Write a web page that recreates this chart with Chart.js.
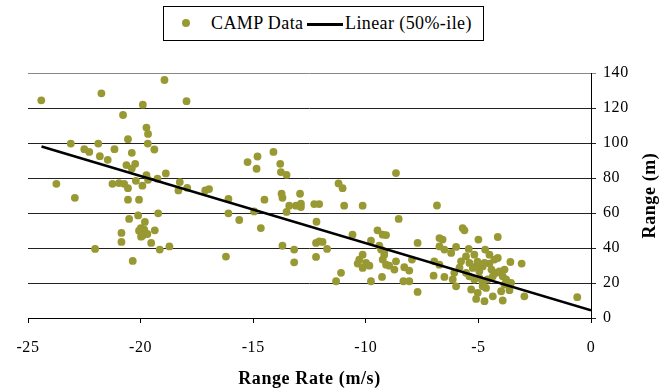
<!DOCTYPE html>
<html><head><meta charset="utf-8">
<script src="https://cdn.jsdelivr.net/npm/chart.js@4.4.1/dist/chart.umd.min.js"></script>
<style>
html,body{margin:0;padding:0;background:#fff;}
#wrap{position:relative;width:672px;height:390px;overflow:hidden;}
#c{position:absolute;left:0;top:0;}
#legend{position:absolute;left:163px;top:6px;width:321px;height:35px;border:1px solid #000;box-sizing:border-box;font-family:'Liberation Serif',serif;font-size:18px;color:#000;background:#fff;}
#legend span{position:absolute;white-space:nowrap;line-height:18px;letter-spacing:0.4px;}
#legend .dot{width:8px;height:8px;border-radius:50%;}
#legend .ln{height:2.5px;background:#000;}
</style></head><body>
<div id="wrap"><canvas id="c" width="672" height="390"></canvas><div id="legend"></div></div>
<script>
const rangeRate = [
-24.41,-23.74,-23.10,-22.92,-22.50,-22.28,-22.02,-21.88,-21.81,-21.74,
-21.46,-21.25,-21.16,-20.96,-20.85,-20.85,-20.78,-20.73,-20.63,-20.56,
-20.56,-20.56,-20.51,-20.39,-20.39,-20.35,-20.24,-20.21,-20.11,-20.07,
-19.92,-19.90,-19.81,-19.99,-19.84,-20.07,-19.92,-19.70,-19.98,-19.74,
-19.67,-19.68,-19.74,-19.67,-19.53,-19.39,-19.37,-19.25,-19.22,-19.15,
-18.94,-18.88,-18.72,-18.32,-18.26,-17.96,-17.93,-17.13,-16.96,-16.21,
-16.10,-16.10,-15.62,-15.25,-14.96,-14.85,-14.81,-14.66,-14.50,-14.10,
-13.80,-13.77,-13.74,-13.70,-13.70,-13.52,-13.52,-13.40,-13.18,-13.18,
-13.10,-12.92,-12.88,-12.88,-12.29,-12.21,-12.21,-12.19,-12.07,-12.07,
-11.92,-11.72,-11.32,-11.21,-11.10,-11.03,-10.96,-10.59,-10.36,-10.29,
-10.14,-10.14,-10.14,-9.99,-9.84,-9.77,-9.77,-9.48,-9.40,-9.32,
-9.25,-9.18,-9.10,-9.28,-9.25,-9.10,-8.96,-8.73,-8.66,-9.18,
-8.66,-8.54,-8.33,-8.29,-8.07,-8.07,-7.95,-7.70,-7.70,-6.99,
-6.96,-6.84,-6.73,-6.59,-6.73,-6.73,-6.51,-6.51,-6.21,-6.07,
-6.14,-5.99,-5.99,-5.77,-5.70,-5.62,-5.43,-5.40,-5.25,-5.10,
-5.00,-4.96,-4.81,-4.73,-4.70,-4.51,-4.29,-4.14,-4.14,
-5.55,-5.40,-5.18,-4.96,-4.81,-4.59,-4.36,-4.21,-4.07,-3.84,
-3.92,-3.77,-3.70,-5.32,-5.03,-4.81,-4.66,-5.10,-4.73,-4.36,
-3.92,-3.99,-3.62,-3.55,-3.58,-3.08,-2.96,-0.61,-3.84,-5.55,
-5.18,-4.51,-5.04,-4.42,-5.84
];
const range = [
124.4,76.7,99.7,68.7,96.5,94.9,39.5,99.7,92.5,128.4,
90.4,76.7,96.5,77.1,48.6,43.5,116.0,76.7,87.4,102.2,
74.2,67.6,56.6,94.4,85.4,32.6,88.1,78.4,58.6,67.6,
75.6,121.9,54.9,51.4,50.5,49.9,47.0,48.0,46.5,108.8,
105.2,99.7,81.7,79.0,42.9,96.3,50.1,79.6,59.8,39.1,
136.0,82.6,40.9,72.9,77.7,123.9,74.4,72.9,73.7,35.1,
68.0,59.8,56.0,89.1,60.9,85.3,92.3,51.4,67.6,94.9,
88.1,83.4,71.0,68.7,41.3,81.8,60.6,64.2,39.1,31.8,
64.2,71.0,65.3,63.4,65.1,42.9,34.9,55.0,65.1,43.8,
43.5,39.5,21.0,76.9,25.8,74.2,64.2,47.6,31.1,33.4,
64.2,36.2,28.6,31.5,29.9,44.2,21.0,50.1,41.3,39.1,
47.6,38.1,47.4,23.5,33.4,30.5,29.9,27.7,32.4,36.2,
82.8,56.6,21.0,29.0,27.1,21.0,33.4,42.9,14.9,24.2,
32.4,64.3,45.7,44.8,40.9,30.5,39.1,23.5,37.2,25.8,
22.0,18.1,40.6,32.4,51.4,50.1,39.5,31.5,28.6,29.5,
44.8,26.7,29.5,31.5,39.1,31.1,33.4,46.3,34.3,
25.8,23.8,22.0,22.9,20.1,22.0,23.8,25.8,26.7,27.7,
23.8,22.0,20.1,16.3,14.4,18.1,17.2,10.9,9.6,12.4,
10.0,15.3,15.9,20.1,32.0,31.1,12.4,11.9,19.1,35.2,
36.2,36.2,32.2,27.7,28.8
];
const trendRate = [-24.4, 0];
const trendRange = [98.0, 4.4];
const xTicks = [-25, -20, -15, -10, -5, 0];
const yTicks = [0, 20, 40, 60, 80, 100, 120, 140];
const seriesNames = ['CAMP Data', 'Linear (50%-ile)'];
const xTitle = 'Range Rate (m/s)';
const yTitle = 'Range (m)';

const pointColor = '#999933';
const serif = "'Liberation Serif', 'Times New Roman', serif";

const scatterData = rangeRate.map((v, i) => ({x: v, y: range[i]}));
const trendData = trendRate.map((v, i) => ({x: v, y: trendRange[i]}));

// legend (HTML, real text)
const lg = document.getElementById('legend');
lg.innerHTML =
  '<span class="dot" style="left:18px;top:12px;background:' + pointColor + '"></span>' +
  '<span style="left:47px;top:7px;">' + seriesNames[0] + '</span>' +
  '<span class="ln" style="left:143px;top:16px;width:36px;"></span>' +
  '<span style="left:181px;top:7px;">' + seriesNames[1] + '</span>';

const spacing = {
  id: 'spacing',
  beforeInit(chart) { chart.ctx.letterSpacing = '0.6px'; },
  beforeDraw(chart) { chart.ctx.letterSpacing = '0.6px'; }
};

const rightTitle = {
  id: 'rightTitle',
  afterDraw(chart) {
    const {ctx, chartArea} = chart;
    ctx.save();
    ctx.letterSpacing = '0.6px';
    ctx.font = 'bold 18px ' + serif;
    ctx.fillStyle = '#000';
    ctx.textAlign = 'center';
    ctx.textBaseline = 'middle';
    ctx.translate(650, (chartArea.top + chartArea.bottom) / 2);
    ctx.rotate(-Math.PI / 2);
    ctx.fillText(yTitle, 0, 0);
    ctx.restore();
  }
};

new Chart(document.getElementById('c'), {
  type: 'scatter',
  data: {
    datasets: [
      {
        label: seriesNames[0],
        data: scatterData,
        backgroundColor: pointColor,
        borderColor: pointColor,
        borderWidth: 0,
        pointRadius: 3.9,
        pointHoverRadius: 3.9,
        order: 2
      },
      {
        label: seriesNames[1],
        type: 'line',
        data: trendData,
        borderColor: '#000',
        borderWidth: 2.5,
        pointRadius: 0,
        fill: false,
        showLine: true,
        order: 1
      }
    ]
  },
  options: {
    responsive: false,
    devicePixelRatio: 1,
    animation: false,
    events: [],
    layout: {padding: {left: 28, top: 73, right: 0, bottom: 0}},
    plugins: {legend: {display: false}, tooltip: {enabled: false}},
    scales: {
      x: {
        type: 'linear',
        position: 'bottom',
        min: -25, max: 0,
        afterBuildTicks(s) { s.ticks = xTicks.map(v => ({value: v})); },
        afterFit(s) { s.height = 72; },
        ticks: {color: '#000', font: {family: serif, size: 16}, padding: 15, maxRotation: 0, autoSkip: false},
        grid: {drawOnChartArea: false, drawTicks: true, tickLength: 5, color: '#000'},
        border: {display: true, color: '#000', width: 1},
        title: {display: true, text: xTitle, color: '#000', font: {family: serif, size: 18, weight: 'bold'}, padding: {top: 4, bottom: 0}}
      },
      y: {
        type: 'linear',
        position: 'right',
        min: 0, max: 140,
        afterBuildTicks(s) { s.ticks = yTicks.map(v => ({value: v})); },
        afterFit(s) { s.width = 81; },
        ticks: {color: '#000', font: {family: serif, size: 16}, padding: 7, autoSkip: false},
        grid: {drawTicks: true, tickLength: 5, color: (c) => (c.tick && c.tick.value === 140) ? '#888' : '#222'},
        border: {display: true, color: '#000', width: 1}
      }
    }
  },
  plugins: [spacing, rightTitle]
});
</script>
</body></html>
